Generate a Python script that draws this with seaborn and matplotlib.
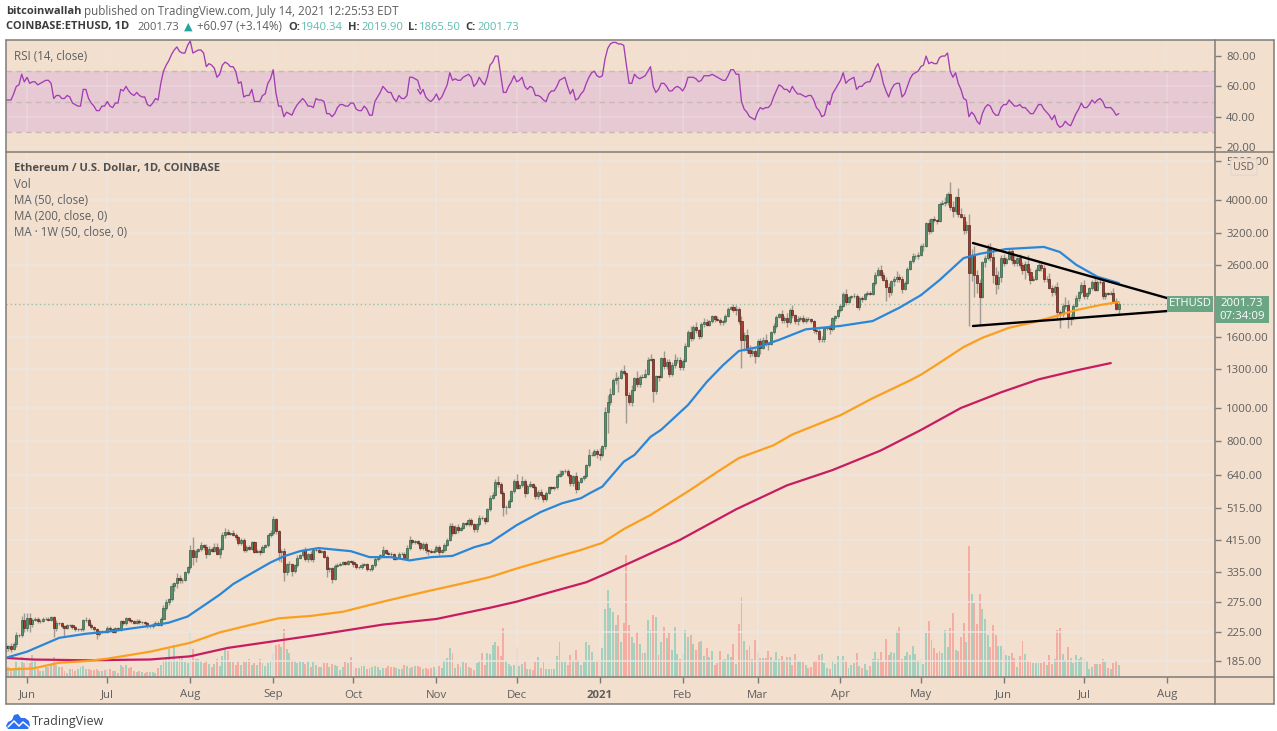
import matplotlib
matplotlib.use('Agg')
import matplotlib.pyplot as plt
import numpy as np
import pandas as pd
import seaborn as sns
from matplotlib.lines import Line2D
from matplotlib.patches import Polygon, Rectangle
from matplotlib.ticker import FixedLocator, FixedFormatter, NullLocator

# daily closes, 2020-05-24 .. 2021-07-14, one row per month
closes = [
    202, 204, 201, 208, 220, 220, 243, 231,
    247, 237, 244, 245, 241, 242, 245, 245, 244, 248, 231, 238, 238, 233, 231, 235, 235, 232, 229, 229, 229, 243, 244, 236, 232, 229, 221, 226, 226, 225,
    231, 229, 225, 230, 228, 241, 238, 246, 243, 241, 239, 242, 240, 240, 238, 233, 233, 236, 239, 236, 245, 263, 275, 279, 305, 311, 321, 317, 318, 334, 346,
    387, 370, 386, 390, 401, 395, 379, 391, 386, 395, 379, 391, 428, 437, 433, 434, 429, 423, 406, 416, 388, 396, 391, 408, 383, 386, 383, 396, 400, 428, 434,
    477, 440, 384, 386, 335, 353, 353, 337, 351, 368, 375, 387, 365, 377, 365, 389, 389, 384, 385, 371, 341, 344, 320, 349, 352, 354, 357, 354, 360, 359,
    353, 346, 346, 352, 353, 341, 341, 351, 365, 370, 375, 387, 381, 379, 377, 366, 369, 378, 379, 369, 392, 414, 409, 412, 406, 393, 404, 388, 386, 383, 386,
    396, 383, 388, 402, 415, 455, 435, 453, 444, 450, 463, 461, 475, 461, 447, 460, 481, 479, 472, 509, 549, 560, 609, 603, 569, 518, 518, 538, 574, 615,
    587, 598, 616, 569, 596, 601, 592, 555, 573, 559, 545, 568, 590, 586, 589, 637, 643, 655, 658, 638, 608, 635, 584, 611, 626, 635, 683, 731, 731, 751, 737,
    729, 774, 975, 1041, 1100, 1208, 1225, 1224, 1282, 1262, 1090, 1043, 1130, 1218, 1171, 1233, 1230, 1257, 1377, 1382, 1121, 1235, 1233, 1392, 1322, 1360, 1252, 1330, 1378, 1380, 1314,
    1369, 1514, 1660, 1594, 1718, 1677, 1614, 1751, 1769, 1744, 1783, 1843, 1813, 1800, 1779, 1781, 1848, 1937, 1960, 1919, 1935, 1781, 1570, 1626, 1475, 1446, 1459, 1416,
    1564, 1492, 1575, 1541, 1533, 1654, 1723, 1835, 1868, 1799, 1826, 1772, 1924, 1854, 1791, 1806, 1823, 1782, 1810, 1806, 1782, 1681, 1669, 1586, 1588, 1700, 1713, 1692, 1817, 1844, 1919,
    1977, 2143, 2028, 2093, 2107, 2112, 1964, 2083, 2071, 2135, 2157, 2139, 2300, 2430, 2515, 2420, 2350, 2236, 2162, 2331, 2361, 2397, 2363, 2212, 2303, 2530, 2660, 2748, 2756, 2773,
    2945, 2950, 3431, 3253, 3522, 3490, 3484, 3902, 3928, 3950, 4168, 3825, 3720, 4079, 3640, 3582, 3280, 3378, 2460, 2780, 2430, 2296, 2100, 2640, 2710, 2888, 2740, 2420, 2280, 2390, 2710,
    2635, 2705, 2855, 2690, 2630, 2715, 2590, 2515, 2610, 2470, 2350, 2370, 2510, 2590, 2550, 2365, 2370, 2230, 2170, 2245, 1890, 1875, 1970, 1990, 1810, 1830, 1980, 2085, 2160, 2275,
    2110, 2150, 2225, 2320, 2200, 2320, 2315, 2115, 2150, 2140, 2155, 2035, 1940, 2001.73,
]
first_open = 204

# upper wick above the body, percent
wick_up = [
    2, 1, 2, 1, 2, 1, 3, 5,
    3, 3, 1, 1, 1, 1, 1, 1, 1, 1, 1, 2, 1, 1, 1, 1, 1, 1, 1, 1, 1, 1, 2, 1, 1, 1, 1, 1, 1, 1,
    1, 1, 1, 1, 1, 1, 1, 1, 1, 1, 1, 1, 1, 1, 1, 1, 1, 1, 1, 1, 1, 2, 2, 1, 2, 1, 4, 2, 1, 1, 1,
    4, 9, 1, 1, 2, 1, 2, 2, 1, 3, 3, 1, 2, 3, 2, 1, 2, 1, 1, 1, 1, 1, 1, 1, 1, 1, 1, 1, 1, 1, 2,
    2, 1, 1, 1, 2, 1, 2, 1, 1, 2, 1, 1, 2, 1, 2, 1, 2, 1, 1, 1, 1, 1, 1, 1, 1, 1, 1, 1, 1, 1,
    1, 1, 1, 1, 1, 1, 1, 1, 2, 1, 1, 3, 1, 1, 1, 1, 1, 1, 1, 1, 2, 3, 1, 1, 1, 1, 1, 1, 1, 1, 1,
    1, 1, 1, 1, 1, 2, 2, 1, 2, 1, 1, 1, 1, 1, 1, 1, 2, 1, 1, 1, 2, 2, 2, 4, 1, 1, 1, 1, 1, 1,
    5, 1, 3, 1, 1, 2, 1, 1, 1, 2, 1, 1, 1, 1, 1, 1, 3, 1, 1, 1, 1, 1, 3, 1, 1, 1, 1, 4, 2, 1, 1,
    4, 1, 3, 5, 4, 1, 4, 1, 1, 4, 1, 2, 3, 1, 5, 1, 2, 3, 2, 4, 1, 1, 1, 1, 5, 2, 2, 2, 4, 2, 2,
    1, 2, 1, 4, 1, 3, 1, 1, 3, 2, 1, 1, 1, 2, 1, 1, 1, 1, 1, 2, 3, 1, 4, 2, 4, 3, 3, 2,
    1, 2, 2, 4, 1, 1, 2, 1, 1, 3, 1, 3, 1, 3, 1, 2, 1, 2, 1, 1, 1, 1, 2, 3, 2, 1, 1, 2, 1, 1, 1,
    1, 1, 3, 1, 1, 2, 1, 1, 1, 1, 1, 1, 1, 2, 2, 3, 2, 2, 3, 1, 2, 4, 2, 2, 1, 1, 1, 2, 1, 2,
    1, 2, 1, 3, 1, 2, 1, 1, 2, 3, 1, 8, 4, 1, 6, 4, 2, 3, 8, 4, 6, 3, 3, 1, 2, 3, 4, 5, 6, 4, 2,
    3, 1, 2, 2, 3, 1, 3, 2, 2, 6, 3, 2, 1, 2, 2, 2, 2, 4, 2, 1, 3, 2, 2, 5, 3, 2, 1, 2, 1, 2,
    3, 1, 1, 1, 4, 1, 3, 2, 1, 1, 1, 3, 2, 1,
]
# lower wick below the body, percent
wick_dn = [
    3, 2, 2, 1, 2, 1, 1, 3,
    2, 5, 2, 1, 1, 1, 1, 1, 1, 1, 6, 2, 1, 1, 6, 1, 1, 1, 1, 1, 1, 1, 1, 1, 1, 1, 3, 1, 1, 1,
    1, 1, 1, 1, 1, 1, 1, 1, 1, 1, 1, 1, 1, 1, 1, 1, 1, 1, 1, 1, 1, 1, 1, 2, 1, 3, 3, 2, 2, 1, 1,
    1, 5, 3, 1, 1, 2, 3, 1, 1, 1, 1, 3, 1, 2, 1, 1, 1, 2, 1, 1, 1, 1, 1, 1, 1, 1, 2, 1, 1, 1, 1,
    1, 2, 6, 7, 6, 2, 5, 3, 1, 1, 1, 1, 1, 2, 1, 2, 1, 1, 1, 1, 5, 2, 3, 1, 1, 1, 1, 1, 1, 1,
    2, 1, 1, 1, 1, 1, 1, 1, 1, 1, 1, 1, 1, 1, 1, 1, 1, 1, 1, 1, 1, 1, 1, 1, 1, 1, 1, 2, 3, 1, 1,
    1, 2, 1, 1, 1, 1, 2, 1, 2, 1, 1, 1, 1, 1, 2, 2, 1, 1, 2, 1, 1, 1, 1, 2, 1, 6, 5, 1, 1, 1,
    1, 1, 1, 3, 1, 1, 1, 2, 2, 1, 2, 1, 1, 1, 1, 1, 1, 1, 1, 1, 2, 2, 3, 1, 1, 1, 1, 1, 1, 1, 3,
    3, 1, 2, 13, 2, 1, 3, 9, 1, 1, 17, 2, 3, 1, 2, 2, 1, 1, 1, 1, 7, 2, 3, 1, 2, 2, 2, 1, 2, 2, 2,
    2, 1, 1, 2, 1, 2, 2, 1, 2, 1, 1, 1, 2, 1, 2, 2, 1, 1, 1, 1, 3, 2, 17, 7, 2, 3, 2, 5,
    1, 4, 1, 2, 4, 1, 1, 1, 1, 2, 2, 3, 1, 2, 2, 3, 1, 1, 1, 1, 1, 2, 2, 2, 2, 2, 1, 3, 1, 2, 1,
    1, 1, 2, 1, 1, 1, 1, 2, 2, 1, 1, 1, 1, 1, 1, 2, 1, 9, 3, 2, 3, 2, 2, 3, 1, 1, 1, 1, 2, 2,
    1, 3, 1, 2, 1, 1, 2, 1, 1, 2, 2, 2, 4, 2, 2, 1, 3, 2, 30, 5, 14, 6, 17, 1, 3, 1, 3, 5, 6, 3, 3,
    2, 1, 1, 3, 2, 2, 2, 3, 6, 2, 3, 1, 1, 1, 2, 2, 2, 1, 3, 2, 5, 9, 2, 2, 6, 4, 2, 1, 2, 1,
    2, 2, 1, 1, 1, 1, 1, 2, 2, 1, 1, 1, 1, 4,
]
# bar heights read against the 0..525 scale of the pane, one row per month
volume = [
    8, 10, 7, 8, 17, 10, 20, 14,
    20, 14, 22, 18, 8, 6, 6, 10, 10, 12, 20, 12, 10, 10, 6, 4, 8, 8, 6, 8, 10, 11, 8, 8, 7, 7, 8, 6, 6, 7,
    8, 8, 6, 6, 4, 12, 10, 12, 9, 10, 6, 5, 6, 5, 4, 5, 5, 5, 4, 9, 12, 17, 20, 28, 17, 32, 16, 20, 19, 15, 14,
    46, 28, 18, 18, 16, 14, 17, 13, 10, 13, 18, 11, 21, 28, 26, 15, 15, 12, 16, 12, 16, 15, 18, 12, 14, 12, 18, 14, 11, 14, 16,
    24, 32, 33, 30, 48, 28, 24, 17, 16, 14, 16, 15, 13, 15, 10, 15, 12, 10, 10, 14, 14, 10, 13, 12, 11, 7, 10, 16, 14, 20,
    11, 9, 9, 11, 11, 8, 9, 10, 11, 10, 7, 9, 9, 11, 10, 10, 9, 8, 8, 12, 11, 9, 10, 11, 11, 10, 8, 9, 8, 9, 10,
    7, 11, 9, 17, 19, 29, 24, 9, 13, 10, 15, 14, 10, 9, 7, 14, 16, 24, 12, 24, 23, 32, 35, 31, 21, 49, 16, 13, 11, 12,
    30, 11, 13, 16, 8, 8, 7, 15, 20, 9, 15, 8, 8, 8, 8, 21, 35, 15, 15, 12, 22, 17, 27, 17, 12, 15, 35, 32, 25, 15, 16,
    16, 29, 68, 87, 69, 65, 52, 62, 35, 54, 122, 52, 40, 34, 45, 33, 24, 24, 57, 47, 62, 60, 22, 35, 50, 39, 44, 27, 50, 23, 18,
    23, 47, 40, 42, 33, 27, 35, 36, 21, 29, 20, 26, 12, 14, 26, 17, 18, 23, 20, 33, 13, 53, 80, 36, 27, 31, 18, 37,
    25, 19, 19, 19, 26, 20, 17, 25, 18, 21, 17, 20, 20, 12, 23, 15, 16, 15, 12, 9, 10, 16, 17, 22, 23, 14, 9, 8, 17, 13, 21,
    18, 21, 16, 9, 12, 14, 24, 11, 9, 13, 7, 11, 18, 25, 18, 25, 15, 38, 22, 25, 24, 46, 50, 18, 21, 25, 22, 31, 23, 17,
    18, 13, 44, 56, 37, 29, 24, 26, 24, 47, 30, 49, 64, 27, 26, 40, 54, 35, 131, 83, 74, 53, 83, 68, 58, 42, 30, 52, 42, 31, 31,
    27, 22, 21, 24, 19, 10, 21, 36, 23, 15, 15, 14, 14, 14, 14, 15, 12, 22, 13, 18, 47, 49, 23, 17, 30, 19, 14, 22, 18, 20,
    19, 16, 8, 10, 13, 13, 13, 18, 15, 9, 8, 14, 17, 12,
]

rsi_a = [
    51, 51, 51, 55, 60, 61, 68, 63, 66, 62, 63, 63, 61, 62, 63, 64, 64, 62, 52, 54, 54, 52, 52, 54, 53, 49, 48, 47, 47, 58, 58, 52, 49, 47, 44, 44, 47, 47, 50, 47,
    46, 49, 49, 58, 57, 60, 57, 55, 54, 56, 54, 53, 53, 48, 47, 49, 52, 51, 62, 70, 74, 77, 81, 84, 86, 83, 82, 82, 87, 90, 82, 83, 84, 84, 82, 73, 75, 74, 72, 66,
    68, 74, 76, 75, 73, 73, 70, 62, 63, 53, 54, 54, 58, 50, 50, 50, 54, 55, 62, 65, 71, 56, 47, 47, 40, 43, 42, 41, 45, 48, 50, 52, 50, 47, 47, 46, 52, 51, 51, 50,
    42, 42, 40, 42, 46, 48, 48, 47, 47, 49, 49, 45, 44, 44, 47, 45, 41, 41, 50, 53, 56, 60, 58, 56, 56, 52, 50, 54, 52, 52, 54, 66, 66, 65, 64, 58,
]
rsi_b = [
    55, 58, 53, 51, 50, 52, 55, 51, 53, 57, 61, 69, 64, 65, 64, 64, 66, 67, 68, 66, 60, 62, 66, 63, 61, 66, 74, 76, 80, 80, 68, 56, 56, 60, 63, 67, 63, 64, 66, 60,
    58, 60, 59, 54, 54, 53, 51, 50, 55, 57, 57, 60, 64, 65, 66, 60, 55, 58, 51, 52, 55, 57, 62, 66, 69, 70, 67, 66, 67, 78, 85, 88, 89, 89, 88, 88, 87, 74, 62, 62,
    68, 66, 65, 66, 67, 70, 73, 60, 56, 58, 62, 62, 60, 57, 57, 59, 60, 59, 57, 60, 66, 66, 66, 65, 63, 64, 67, 67, 67, 68, 67, 66, 65, 64, 64, 67, 71, 71, 68, 68,
    50, 45, 43, 40, 39, 38, 43, 46, 45, 46, 46, 48, 53, 57, 61, 60, 58, 58, 56, 60, 57, 55, 55, 54, 53, 54, 54, 51, 46, 44, 40, 41, 48, 50,
]
rsi_c = [
    48, 55, 58, 61, 64, 69, 62, 64, 65, 66, 58, 60, 60, 62, 63, 63, 67, 72, 75, 70, 62, 57, 53, 58, 61, 62, 62, 53, 55, 60, 65, 68, 69, 70, 73, 74, 80, 75, 76, 75,
    75, 79, 80, 80, 82, 70, 66, 69, 62, 58, 52, 51, 40, 43, 41, 37, 35, 42, 46, 48, 47, 43, 41, 41, 46, 48, 48, 51, 49, 47, 47, 48, 46, 46, 44, 42, 42, 45, 48, 48,
    45, 43, 41, 38, 41, 35, 33, 34, 37, 35, 34, 38, 42, 45, 49, 46, 46, 48, 51, 49, 51, 52, 50, 46, 46, 46, 44, 41, 42,
]
rsi_starts = [-8, 147, 300]

ma50_day = [-8, 0, 12, 22, 30, 46, 53, 60, 67, 72, 77, 83, 91, 96, 102, 109, 121, 128, 136, 143, 151, 159, 167, 173, 183, 192, 200, 207, 210, 215, 223, 227, 233, 237, 247, 254, 260, 266, 273, 281, 291, 304, 316, 326, 334, 341, 350, 356, 366, 380, 386, 392, 400, 408]
ma50_val = [189, 197, 216, 222, 225, 234, 239, 249, 271, 288, 309, 329, 357, 372, 385, 393, 385, 370, 370, 362, 370, 373, 395, 407, 458, 500, 530, 548, 565, 592, 699, 731, 825, 865, 1020, 1189, 1328, 1462, 1500, 1574, 1689, 1728, 1785, 1951, 2120, 2345, 2716, 2794, 2885, 2926, 2828, 2600, 2398, 2300]
ma200_day = [-8, 2, 12, 22, 30, 46, 61, 72, 83, 94, 106, 118, 133, 149, 164, 173, 183, 197, 207, 215, 223, 233, 248, 259, 266, 279, 286, 304, 316, 330, 334, 339, 350, 357, 367, 376, 385, 392, 401, 408]
ma200_val = [175, 176, 183, 185, 188, 197, 209, 224, 235, 246, 250, 257, 275, 294, 312, 324, 343, 369, 388, 407, 446, 490, 580, 661, 716, 780, 838, 953, 1067, 1202, 1248, 1320, 1501, 1596, 1707, 1770, 1850, 1920, 1986, 2027]
ma1w_day = [-8, 2, 22, 46, 61, 75, 90, 108, 133, 153, 173, 183, 197, 209, 217, 228, 244, 265, 284, 301, 319, 334, 349, 364, 378, 392, 405]
ma1w_val = [189, 187, 186, 187, 191, 202, 210, 220, 236, 245, 264, 275, 295, 313, 333, 364, 415, 509, 597, 661, 753, 863, 1000, 1110, 1210, 1284, 1349]

# trend lines drawn on the chart
trend_day = [353.5, 426]
trend_upper = [3003, 2081]
trend_lower = [1727, 1908]

price_ticks = [185, 225, 275, 335, 415, 515, 640, 800, 1000, 1300, 1600, 2600, 3200, 4000, 5200]
rsi_ticks = [20, 40, 60, 80]
month_days = [0, 30, 61, 92, 122, 153, 183, 214, 245, 273, 304, 334, 365, 395, 426]
month_labels = ['Jun', 'Jul', 'Aug', 'Sep', 'Oct', 'Nov', 'Dec', '2021', 'Feb', 'Mar', 'Apr', 'May', 'Jun', 'Jul', 'Aug']
last_price = 2001.73

BG = '#f2dfce'
GRID = '#ebe6e2'
FRAME = '#7f7b77'
TXT = '#5f5f5f'
TEAL = '#5dbcb0'
W, H = 1277, 731

assert len(closes) == len(wick_up) == len(wick_dn) == len(volume) == 417, (len(closes), len(wick_up), len(wick_dn), len(volume))

sns.set_theme(style='white')
plt.rcParams['font.family'] = ['Open Sans', 'DejaVu Sans']

fig = plt.figure(figsize=(W / 100, H / 100), dpi=100, facecolor='white')


def box(left, top, right, bottom):
    return [left / W, 1 - bottom / H, (right - left) / W, (bottom - top) / H]


def fx(x):
    return x / W


def fy(y):
    return 1 - y / H


def put(x, y, s, **kw):
    kw.setdefault('va', 'center')
    kw.setdefault('fontsize', 8.3)
    fig.text(fx(x), fy(y), s, **kw)


fig.add_artist(Rectangle((fx(6), fy(704)), (1274 - 6) / W, (704 - 40) / H, transform=fig.transFigure, fc=BG, ec='none', zorder=-1))

rsi_ax = fig.add_axes(box(6, 40, 1215, 152))
vol_ax = fig.add_axes(box(6, 152, 1215, 677))
ax = fig.add_axes(box(6, 152, 1215, 677))
for a in (rsi_ax, vol_ax, ax):
    a.patch.set_visible(False)
    sns.despine(ax=a, left=True, bottom=True)
xlim = (-7.85, 443.95)

# volume
days = np.arange(-8, 409)
closes_arr = np.array(closes, dtype=float)
opens = np.r_[first_open, closes_arr[:-1]]
opens[-1] = 1940.34
rising = closes_arr >= opens
vol_df = pd.DataFrame({'day': days, 'volume': volume, 'rising': rising})
sns.barplot(data=vol_df, x='day', y='volume', hue='rising', palette={True: '#a5d0be', False: '#f5aca3'},
            native_scale=True, dodge=False, width=0.72, saturation=1, errorbar=None, legend=False,
            linewidth=0, edgecolor='none', ax=vol_ax)
vol_ax.set_ylim(0, 525)
vol_ax.set_xlim(xlim)
vol_ax.axis('off')

# grid first, then candles
ax.set_yscale('log')
ax.set_ylim(166.4, 5509)
ax.set_xlim(xlim)
ax.vlines(month_days, 166.4, 5509, color=GRID, lw=1.1, zorder=0)
ax.hlines(price_ticks, *xlim, color=GRID, lw=1.1, zorder=0)
ax.hlines(last_price, -8, 444, color='#9dbfa8', lw=1, linestyles=(0, (1, 2)), zorder=1)

top = np.maximum(opens, closes_arr)
bot = np.minimum(opens, closes_arr)
highs = top * (1 + np.array(wick_up) / 100)
lows = bot * (1 - np.array(wick_dn) / 100)
ax.vlines(days, lows, highs, color='#a09a92', lw=1.0, zorder=2)
ax.bar(days[rising], (top - bot)[rising], bottom=bot[rising], width=0.78, color='#558f6b', edgecolor='#2b5a3e', lw=0.45, zorder=3)
ax.bar(days[~rising], (top - bot)[~rising], bottom=bot[~rising], width=0.78, color='#a8392c', edgecolor='#4a1c14', lw=0.45, zorder=3)

# moving averages and trend lines
sns.lineplot(x=ma1w_day, y=ma1w_val, color='#c81c62', lw=1.6, estimator=None, ax=ax, zorder=4)
sns.lineplot(x=ma200_day, y=ma200_val, color='#fb9f1f', lw=1.6, estimator=None, ax=ax, zorder=4)
sns.lineplot(x=ma50_day, y=ma50_val, color='#2a87d8', lw=1.6, estimator=None, ax=ax, zorder=4)
sns.lineplot(x=trend_day, y=trend_upper, color='black', lw=1.7, estimator=None, ax=ax, zorder=5)
sns.lineplot(x=trend_day, y=trend_lower, color='black', lw=1.7, estimator=None, ax=ax, zorder=5)

ax.yaxis.tick_right()
ax.yaxis.set_major_locator(FixedLocator(price_ticks))
ax.yaxis.set_major_formatter(FixedFormatter([f'{p}.00' for p in price_ticks]))
ax.yaxis.set_minor_locator(NullLocator())
ax.tick_params(axis='y', which='major', right=True, length=4, width=1, color=FRAME, labelcolor=TXT, labelsize=8.2, pad=4)
ax.set_xticks(month_days, month_labels)
ax.tick_params(axis='x', bottom=True, length=4, width=1, color=FRAME, labelcolor=TXT, labelsize=8.2, pad=5)
for lab in ax.get_xticklabels():
    if lab.get_text() == '2021':
        lab.set_fontweight('bold')
ax.set_xlabel('')
ax.set_ylabel('')

# RSI pane
rsi_ax.set_xlim(xlim)
rsi_ax.set_ylim(16.7, 90.6)
rsi_ax.axhspan(30, 70, color='#e7c9d4', lw=0, zorder=0)
rsi_ax.vlines(month_days, 16.7, 90.6, color=GRID, lw=1.1, alpha=0.45, zorder=1)
rsi_ax.hlines(rsi_ticks, *xlim, color=GRID, lw=1.1, alpha=0.45, zorder=1)
rsi_ax.hlines([30, 50, 70], *xlim, color='#c9b9b4', lw=1, linestyles=(0, (4, 3)), zorder=1)
for start, values in zip(rsi_starts, [rsi_a, rsi_b, rsi_c]):
    sns.lineplot(x=np.arange(start, start + len(values)), y=values, color='#a23db3', lw=0.95, estimator=None, ax=rsi_ax, zorder=3)
sns.lineplot(x=[rsi_starts[1] - 1, rsi_starts[1]], y=[rsi_a[-1], rsi_b[0]], color='#a23db3', lw=0.95, estimator=None, ax=rsi_ax, zorder=3)
sns.lineplot(x=[rsi_starts[2] - 1, rsi_starts[2]], y=[rsi_b[-1], rsi_c[0]], color='#a23db3', lw=0.95, estimator=None, ax=rsi_ax, zorder=3)
rsi_ax.yaxis.tick_right()
rsi_ax.set_yticks(rsi_ticks, [f'{v}.00' for v in rsi_ticks])
rsi_ax.set_xticks([])
rsi_ax.tick_params(axis='y', right=True, length=4, width=1, color=FRAME, labelcolor=TXT, labelsize=8.2, pad=4)
rsi_ax.set_xlabel('')
rsi_ax.set_ylabel('')

# frame
for x0, y0, x1, y1 in [(6, 40, 1274, 40), (6, 152, 1274, 152), (6, 677, 1274, 677), (6, 704, 1274, 704),
                       (6, 40, 6, 704), (1274, 40, 1274, 704), (1215, 40, 1215, 704)]:
    fig.add_artist(Line2D([fx(x0), fx(x1)], [fy(y0), fy(y1)], color=FRAME, lw=1.1, zorder=6))

# pane captions
put(14, 56, 'RSI (14, close)', color=TXT)
put(14, 168, 'Ethereum / U.S. Dollar, 1D, COINBASE', color='#4f4f4f', fontsize=8.1, fontweight='bold')
for y, s in zip([184, 200, 216, 232], ['Vol', 'MA (50, close)', 'MA (200, close, 0)', 'MA · 1W (50, close, 0)']):
    put(14, y, s, color=TXT)

# header
put(6, 11, 'bitcoinwallah', color='#3c3c3c', fontsize=8, fontweight='bold')
put(84, 11, 'published on TradingView.com, July 14, 2021 12:25:53 EDT', color=TXT, fontsize=8.4)
put(6, 27, 'COINBASE:ETHUSD, 1D', color='#3c3c3c', fontsize=8, fontweight='bold')
put(138, 27, '2001.73', color=TXT, fontsize=8.1)
put(184, 27, '▲', color='#26a69a', fontsize=8)
put(197, 27, '+60.97 (+3.14%)', color=TXT)
for x_lab, x_val, lab, val in [(288, 301, 'O:', '1940.34'), (348, 361, 'H:', '2019.90'), (408, 419, 'L:', '1865.50'), (465, 478, 'C:', '2001.73')]:
    put(x_lab, 27, lab, color='#3c3c3c', fontsize=8, fontweight='bold')
    put(x_val, 27, val, color=TEAL, fontsize=8.1)

# price tags on the scale
fig.add_artist(Rectangle((fx(1167), fy(312)), 46 / W, 16 / H, transform=fig.transFigure, fc='#6ba584', ec='none', zorder=7))
fig.add_artist(Rectangle((fx(1215), fy(323)), 54 / W, 27 / H, transform=fig.transFigure, fc='#6ba584', ec='none', zorder=7))
put(1190, 304, 'ETHUSD', color='white', fontsize=8, ha='center', zorder=8)
put(1242, 304, '2001.73', color='white', fontsize=8.2, ha='center', zorder=8)
put(1242, 316, '07:34:09', color='white', fontsize=8.2, ha='center', zorder=8)
# price label for 5200 sits under the USD chip in the reference
for lab in ax.get_yticklabels():
    if lab.get_text() == '5200.00':
        lab.set_zorder(1)
put(1244, 167, 'USD', color=TXT, fontsize=7.6, ha='center', zorder=8,
    bbox=dict(boxstyle='round,pad=0.25', fc=BG, ec='#e2d8cf', lw=1))

# footer logo and wordmark
logo = fig.add_axes(box(6, 713, 30, 730))
logo.set_xlim(0, 24)
logo.set_ylim(0, 17)
logo.axis('off')
logo.add_patch(Polygon([(0, 4), (2, 8), (6, 10), (8, 15), (12, 16), (15, 12), (19, 12), (23, 9), (24, 4), (22, 1), (2, 1)], fc='#2d6ff2', ec='none'))
logo.plot([2, 8, 13, 17, 23], [3, 9, 4, 8, 3], color='white', lw=1.1)
put(32, 722, 'TradingView', color='#444444', fontsize=9)

fig.savefig('out.png', dpi=100)
plt.close(fig)
